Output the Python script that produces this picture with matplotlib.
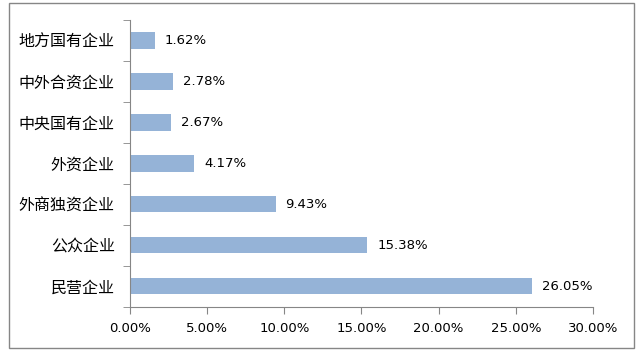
import matplotlib.pyplot as plt
import numpy as np
from matplotlib.patches import Rectangle
from matplotlib.ticker import FixedLocator

plt.rcParams['font.family'] = ['Noto Sans CJK SC', 'DejaVu Sans']

## data (top -> bottom)
categories = ["地方国有企业", "中外合资企业", "中央国有企业", "外资企业", "外商独资企业", "公众企业", "民营企业"]
values = [1.62, 2.78, 2.67, 4.17, 9.43, 15.38, 26.05]
xticks = [0, 5, 10, 15, 20, 25, 30]

fig = plt.figure(figsize=(6.43, 3.53), dpi=100)
ax = fig.add_axes([0.2022, 0.1312, 0.72, 0.8121])

grey = "#868686"
fig.patches.append(Rectangle((0.014, 0.0142), 0.972, 0.9773, transform=fig.transFigure,
                             fill=False, edgecolor=grey, linewidth=1.0))

y = np.arange(len(categories))
ax.barh(y, values, height=0.4, color="#95B3D7")
ax.set_ylim(len(categories) - 0.5, -0.5)
ax.set_xlim(0, 30)

for yi, v in zip(y, values):
    ax.text(v + 0.65, yi, "%.2f%%" % v, va="center", ha="left", fontsize=9.5, family=["DejaVu Sans"])

ax.set_yticks(y)
ax.set_yticklabels(categories, fontsize=11.5)
ax.yaxis.set_minor_locator(FixedLocator(np.arange(-0.5, len(categories), 1)))
ax.tick_params(axis="y", which="major", length=0, pad=11)
ax.tick_params(axis="y", which="minor", length=5, color=grey, direction="out")

ax.set_xticks(xticks)
ax.set_xticklabels(["%.2f%%" % t for t in xticks], fontsize=9.5, family=["DejaVu Sans"])
ax.tick_params(axis="x", length=5, color=grey, direction="out", pad=6)

for s in ["top", "right"]:
    ax.spines[s].set_visible(False)
for s in ["left", "bottom"]:
    ax.spines[s].set_color(grey)

fig.savefig("out.png", dpi=100)
